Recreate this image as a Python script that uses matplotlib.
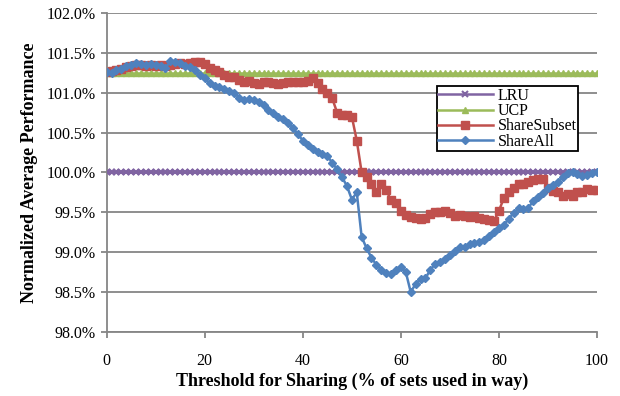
import matplotlib
matplotlib.use("Agg")
import matplotlib.pyplot as plt
from matplotlib.ticker import FuncFormatter, MultipleLocator

thresholds = list(range(0, 101))

lru = [100.0] * 101
ucp = [101.25] * 101

share_subset = [
    101.26, 101.27, 101.29, 101.30, 101.32, 101.34, 101.35, 101.35, 101.34, 101.35,
    101.34, 101.35, 101.34, 101.35, 101.36, 101.37, 101.36, 101.37, 101.38, 101.38,
    101.36, 101.31, 101.29, 101.26, 101.22, 101.20, 101.20, 101.16, 101.14, 101.15,
    101.12, 101.11, 101.13, 101.14, 101.12, 101.11, 101.12, 101.13, 101.13, 101.14,
    101.14, 101.15, 101.18, 101.12, 101.05, 101.00, 100.93, 100.75, 100.72, 100.72,
    100.70, 100.40, 100.00, 99.94, 99.86, 99.76, 99.86, 99.78, 99.65, 99.62,
    99.52, 99.47, 99.44, 99.43, 99.42, 99.43, 99.48, 99.50, 99.50, 99.52,
    99.49, 99.45, 99.46, 99.45, 99.44, 99.45, 99.43, 99.41, 99.40, 99.39,
    99.52, 99.68, 99.76, 99.80, 99.85, 99.86, 99.88, 99.91, 99.92, 99.92,
    99.80, 99.77, 99.75, 99.71, 99.73, 99.70, 99.75, 99.76, 99.79, 99.78,
    99.78,
]

share_all = [
    101.26, 101.25, 101.28, 101.30, 101.33, 101.35, 101.37, 101.36, 101.35, 101.36,
    101.35, 101.34, 101.31, 101.40, 101.38, 101.37, 101.33, 101.32, 101.28, 101.22,
    101.18, 101.12, 101.08, 101.07, 101.05, 101.02, 101.00, 100.94, 100.91, 100.92,
    100.91, 100.89, 100.85, 100.78, 100.75, 100.70, 100.67, 100.62, 100.56, 100.48,
    100.40, 100.35, 100.30, 100.26, 100.23, 100.21, 100.12, 100.04, 99.94, 99.83,
    99.66, 99.75, 99.19, 99.05, 98.93, 98.84, 98.78, 98.74, 98.72, 98.77,
    98.81, 98.75, 98.50, 98.60, 98.66, 98.67, 98.78, 98.85, 98.88, 98.91,
    98.96, 99.02, 99.06, 99.07, 99.10, 99.12, 99.13, 99.15, 99.20, 99.25,
    99.30, 99.34, 99.42, 99.49, 99.55, 99.54, 99.56, 99.64, 99.69, 99.74,
    99.80, 99.84, 99.88, 99.94, 99.99, 100.00, 99.98, 99.96, 99.97, 99.99,
    100.01,
]

x_ticks = [0, 20, 40, 60, 80, 100]

plt.rcParams['font.family'] = ['Liberation Serif', 'DejaVu Serif']

fig = plt.figure(figsize=(6.2, 3.96), dpi=100)
ax = fig.add_axes([0.172, 0.162, 0.791, 0.805])

ax.plot(thresholds, lru, color='#8064A2', lw=1.8, marker='x', ms=4.5, mew=1.5, label='LRU', zorder=3)
ax.plot(thresholds, ucp, color='#9BBB59', lw=1.8, marker='^', ms=4.5, label='UCP', zorder=3)
ax.plot(thresholds, share_subset, color='#C0504D', lw=1.8, marker='s', ms=5.5, label='ShareSubset', zorder=4)
ax.plot(thresholds, share_all, color='#4F81BD', lw=1.8, marker='D', ms=4.5, label='ShareAll', zorder=5)

ax.set_xlim(0, 100)
ax.set_ylim(98.0, 102.0)
ax.set_xticks(x_ticks)
ax.yaxis.set_major_locator(MultipleLocator(0.5))
ax.yaxis.set_major_formatter(FuncFormatter(lambda v, p: f"{v:.1f}%"))
ax.grid(axis='y', color='#868686', lw=1.3)
ax.set_axisbelow(True)

for s in ['top', 'right']:
    ax.spines[s].set_visible(False)
for s in ['left', 'bottom']:
    ax.spines[s].set_color('#868686')
    ax.spines[s].set_linewidth(1.3)

ax.tick_params(axis='both', colors='#868686', labelcolor='black', labelsize=11.5, length=4, width=1.3)
ax.tick_params(axis='x', pad=11)
ax.tick_params(axis='y', pad=4)

ax.set_xlabel('Threshold for Sharing (% of sets used in way)', fontsize=13, fontweight='bold', labelpad=3)
ax.set_ylabel('Normalized Average Performance', fontsize=13, fontweight='bold', labelpad=6)

leg = ax.legend(loc='upper left', bbox_to_anchor=(0.673, 0.77), fontsize=11.5, frameon=True,
                fancybox=False, edgecolor='black', handlelength=3.4, labelspacing=-0.05,
                borderpad=0.1, handletextpad=0.3, borderaxespad=0)
leg.get_frame().set_linewidth(1.3)
leg.get_frame().set_alpha(1)

fig.savefig('out.png', dpi=100)
